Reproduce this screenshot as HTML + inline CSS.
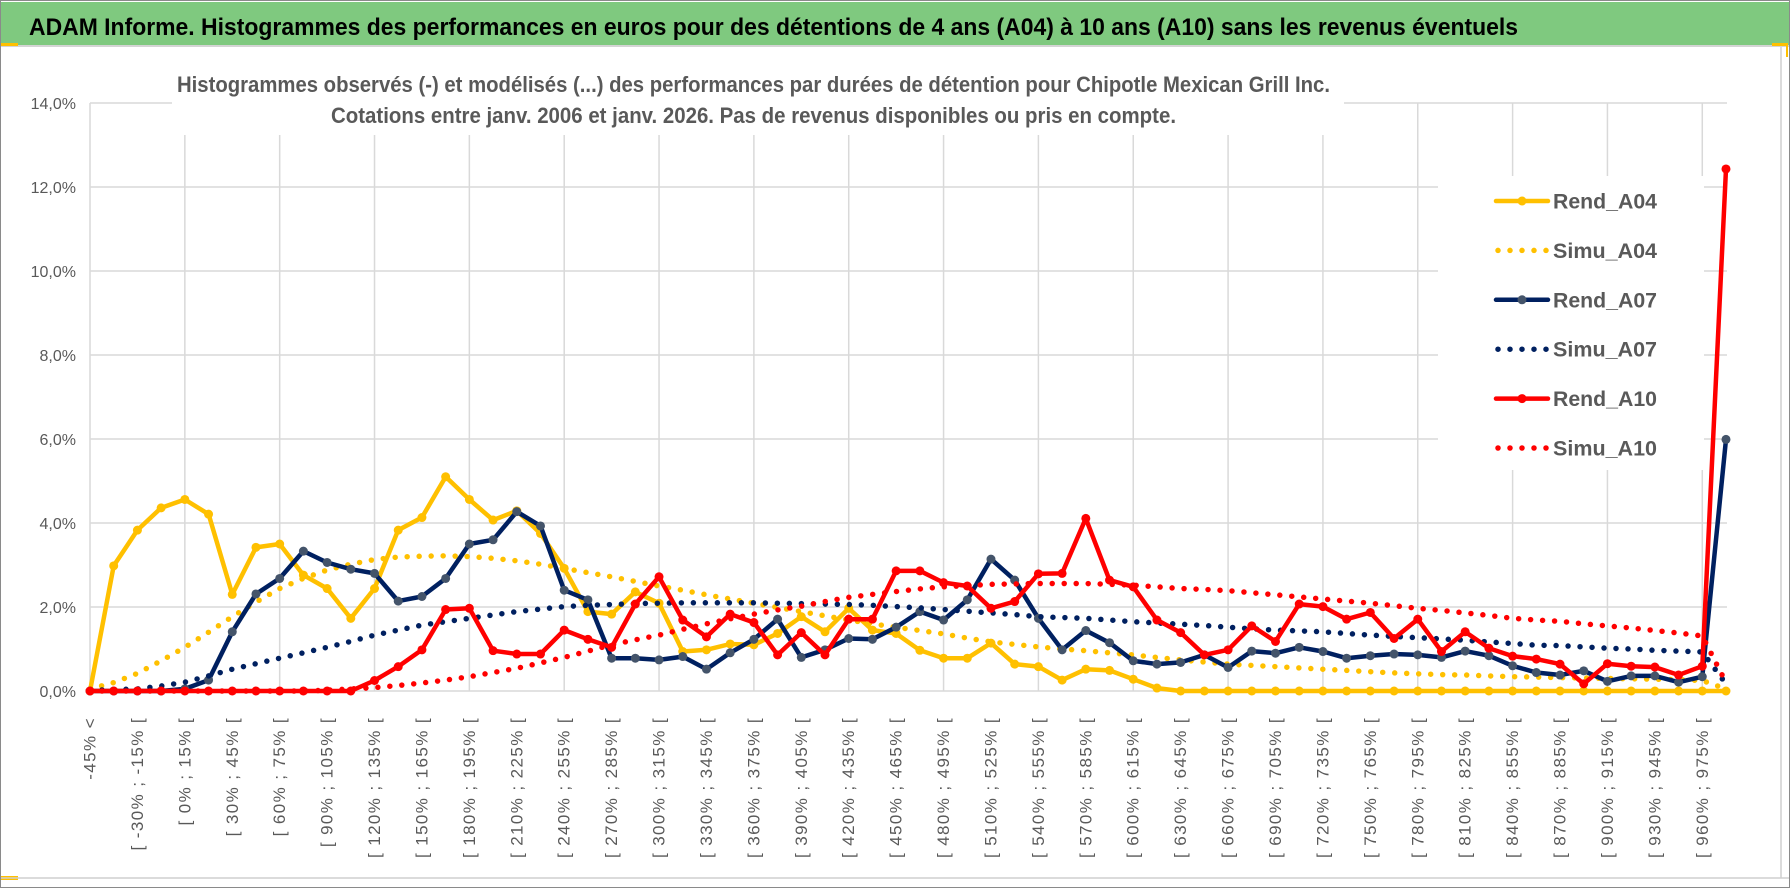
<!DOCTYPE html>
<html><head><meta charset="utf-8">
<style>
html,body{margin:0;padding:0;background:#fff;}
svg{display:block;}
text{font-family:"Liberation Sans",sans-serif;}
</style></head>
<body>
<svg id="chart" width="1790" height="888" viewBox="0 0 1790 888" xmlns="http://www.w3.org/2000/svg">
  <rect x="0.5" y="0.5" width="1789" height="887" fill="#fff" stroke="#8a8a8a"/>
  <rect x="1" y="2" width="1788" height="43" fill="#7fc97f"/>
  <text x="29" y="35" font-size="24" font-weight="bold" fill="#000" textLength="1489" lengthAdjust="spacingAndGlyphs">ADAM Informe. Histogrammes des performances en euros pour des détentions de 4 ans (A04) à 10 ans (A10) sans les revenus éventuels</text>
  <rect x="1" y="45" width="1788" height="2" fill="#d4d4d4"/>
  <rect x="1" y="43" width="17" height="3" fill="#ffc000"/>
  <rect x="1772" y="43" width="16" height="3" fill="#ffc000"/>
  <rect x="1786" y="43" width="2" height="14" fill="#ffc000"/>
  <rect x="1" y="876" width="17" height="4" fill="#ffc000"/>
  <line x1="1" y1="878" x2="1789" y2="878" stroke="#cfcfcf" stroke-width="1.5"/>
  <line x1="1781" y1="47" x2="1781" y2="878" stroke="#cfcfcf" stroke-width="1.5"/>
  <g id="grid"></g>
  <rect x="172" y="58" width="1172" height="77" fill="#fff"/>
  <text x="177" y="92" font-size="22" font-weight="bold" fill="#595959" textLength="1153" lengthAdjust="spacingAndGlyphs">Histogrammes observés (-) et modélisés (...) des performances par durées de détention pour Chipotle Mexican Grill Inc.</text>
  <text x="331" y="123" font-size="22" font-weight="bold" fill="#595959" textLength="845" lengthAdjust="spacingAndGlyphs">Cotations entre janv. 2006 et janv. 2026. Pas de revenus disponibles ou pris en compte.</text>
  <g id="yaxis"></g>
  <g id="xaxis"></g>
  <rect x="1438" y="176" width="266" height="294" fill="#fff"/>
  <g id="series"></g>
  <g id="legend"></g>
</svg>
<script>
const rendA04 = [0,2.98,3.83,4.36,4.56,4.21,2.30,3.42,3.50,2.76,2.44,1.73,2.44,3.83,4.13,5.10,4.56,4.07,4.29,3.75,2.92,1.89,1.83,2.36,2.09,0.94,0.98,1.12,1.10,1.37,1.77,1.41,1.97,1.45,1.37,0.97,0.78,0.78,1.14,0.64,0.58,0.26,0.52,0.49,0.28,0.07,0,0,0,0,0,0,0,0,0,0,0,0,0,0,0,0,0,0,0,0,0,0,0,0];
const simuA04 = [0.05,0.2,0.42,0.72,1.04,1.40,1.77,2.12,2.44,2.68,2.88,3.02,3.13,3.19,3.21,3.22,3.20,3.16,3.10,3.02,2.92,2.82,2.72,2.61,2.50,2.40,2.29,2.19,2.09,1.99,1.89,1.79,1.69,1.60,1.52,1.44,1.36,1.26,1.17,1.11,1.05,1.00,0.96,0.91,0.86,0.80,0.74,0.69,0.64,0.61,0.58,0.55,0.52,0.49,0.46,0.43,0.41,0.39,0.38,0.36,0.34,0.33,0.32,0.31,0.30,0.29,0.28,0.27,0.25,0.05];
const rendA07 = [0,0,0,0,0.05,0.26,1.41,2.31,2.68,3.33,3.06,2.90,2.80,2.14,2.25,2.68,3.50,3.60,4.27,3.93,2.40,2.17,0.78,0.78,0.74,0.82,0.52,0.91,1.23,1.71,0.80,0.98,1.25,1.23,1.52,1.89,1.69,2.17,3.14,2.64,1.73,0.98,1.44,1.15,0.72,0.64,0.68,0.86,0.56,0.95,0.90,1.04,0.94,0.78,0.84,0.88,0.86,0.80,0.95,0.84,0.60,0.44,0.38,0.48,0.23,0.36,0.36,0.21,0.34,5.99];
const simuA07 = [0.02,0.03,0.05,0.12,0.21,0.36,0.52,0.65,0.78,0.91,1.04,1.18,1.33,1.45,1.57,1.65,1.73,1.81,1.89,1.95,2.01,2.04,2.06,2.08,2.09,2.10,2.10,2.10,2.10,2.09,2.08,2.07,2.06,2.04,2.01,1.98,1.94,1.90,1.86,1.82,1.77,1.75,1.73,1.69,1.65,1.62,1.59,1.56,1.52,1.48,1.45,1.43,1.41,1.37,1.33,1.30,1.27,1.24,1.21,1.17,1.13,1.09,1.08,1.05,1.02,1.00,0.97,0.95,0.93,0.17];
const rendA10 = [0,0,0,0,0,0,0,0,0,0,0,0,0.25,0.58,0.98,1.94,1.97,0.96,0.88,0.88,1.45,1.23,1.04,2.07,2.72,1.69,1.29,1.83,1.63,0.86,1.39,0.86,1.71,1.71,2.86,2.86,2.58,2.50,1.97,2.13,2.79,2.80,4.11,2.64,2.48,1.69,1.39,0.86,0.98,1.55,1.18,2.07,2.01,1.71,1.87,1.25,1.71,0.94,1.41,1.02,0.83,0.76,0.64,0.17,0.65,0.59,0.57,0.38,0.59,12.43];
const simuA10 = [0,0,0,0,0,0,0,0,0,0,0.02,0.05,0.08,0.13,0.19,0.26,0.34,0.44,0.54,0.67,0.80,0.95,1.10,1.22,1.33,1.47,1.60,1.72,1.83,1.93,2.02,2.13,2.23,2.30,2.37,2.43,2.48,2.51,2.54,2.55,2.56,2.56,2.56,2.54,2.52,2.48,2.44,2.42,2.39,2.34,2.29,2.24,2.19,2.14,2.09,2.03,1.97,1.92,1.86,1.80,1.73,1.69,1.66,1.60,1.55,1.50,1.44,1.38,1.31,0.2];
const yTicks = [0,2,4,6,8,10,12,14];
const yTickLabels = ["0,0%","2,0%","4,0%","6,0%","8,0%","10,0%","12,0%","14,0%"];
const categories = ["-45% <"];
for (let s = -45; s < 990; s += 15) categories.push("[ " + s + "% ; " + (s + 15) + "% [");

const NS = "http://www.w3.org/2000/svg";
const X0 = 90, DX = 23.71, Y0 = 691, PY = 42, XR = 1727;
function xs(i){ return X0 + i * DX; }
function ys(v){ return Y0 - v * PY; }
function mk(tag, attrs, parent){
  const e = document.createElementNS(NS, tag);
  for (const k in attrs) e.setAttribute(k, attrs[k]);
  parent.appendChild(e);
  return e;
}
const grid = document.getElementById('grid');
yTicks.forEach(function(t){
  const l = mk('line', {x1: X0, x2: XR, y1: ys(t), y2: ys(t), stroke: '#d9d9d9', 'stroke-width': 1.5}, grid);
  
  
});
for (let i = 0; i < categories.length; i += 4) {
  const l = mk('line', {x1: xs(i), x2: xs(i), y1: ys(14), y2: ys(0), stroke: '#d9d9d9', 'stroke-width': 1.5}, grid);
  
  
}
const yaxis = document.getElementById('yaxis');
yTicks.forEach(function(t, k){
  const tx = mk('text', {x: 76, y: ys(t) + 6, 'text-anchor': 'end', 'font-size': 16, fill: '#595959'}, yaxis);
  tx.textContent = yTickLabels[k];
  
  
});
const xaxis = document.getElementById('xaxis');
categories.forEach(function(c, i){
  if (i % 2 !== 0) return;
  const x = xs(i), y = 717;
  const tx = mk('text', {x: x, y: y, 'text-anchor': 'end', 'dominant-baseline': 'central', 'font-size': 17, 'letter-spacing': '1.4', fill: '#595959', transform: 'rotate(-90 ' + x + ' ' + y + ')'}, xaxis);
  tx.textContent = c;
  
  
});
const seriesG = document.getElementById('series');
function drawSeries(vals, color, dotted, markerColor, name){
  const g = mk('g', {}, seriesG);
  
  
  const pts = vals.map(function(v, i){ return xs(i).toFixed(1) + ',' + ys(v).toFixed(1); }).join(' ');
  const attrs = {points: pts, fill: 'none', stroke: color, 'stroke-linejoin': 'round'};
  if (dotted) { attrs['stroke-width'] = 5.5; attrs['stroke-dasharray'] = '0 12'; attrs['stroke-linecap'] = 'round'; }
  else { attrs['stroke-width'] = 4.5; attrs['stroke-linecap'] = 'round'; }
  const pl = mk('polyline', attrs, g);
  
  
  if (!dotted) {
    vals.forEach(function(v, i){
      const c = mk('circle', {cx: xs(i), cy: ys(v), r: 4.5, fill: markerColor}, g);
      
      
    });
  }
}
drawSeries(rendA04, '#ffc000', false, '#ffc000', 'rend-a04');
drawSeries(simuA04, '#ffc000', true, null, 'simu-a04');
drawSeries(rendA07, '#002060', false, '#44546a', 'rend-a07');
drawSeries(simuA07, '#002060', true, null, 'simu-a07');
drawSeries(rendA10, '#ff0000', false, '#ff0000', 'rend-a10');
drawSeries(simuA10, '#ff0000', true, null, 'simu-a10');

const legendNames = ["Rend_A04","Simu_A04","Rend_A07","Simu_A07","Rend_A10","Simu_A10"];
const legendColors = ['#ffc000','#ffc000','#002060','#002060','#ff0000','#ff0000'];
const legendMarkers = ['#ffc000',null,'#44546a',null,'#ff0000',null];
const legend = document.getElementById('legend');
legendNames.forEach(function(n, k){
  const y = 201 + k * 49.4;
  const g = mk('g', {}, legend);
  
  
  if (legendMarkers[k]) {
    mk('line', {x1: 1496, x2: 1548, y1: y, y2: y, stroke: legendColors[k], 'stroke-width': 4.5, 'stroke-linecap': 'round'}, g);
    mk('circle', {cx: 1522, cy: y, r: 4.5, fill: legendMarkers[k]}, g);
  } else {
    mk('line', {x1: 1498, x2: 1548, y1: y, y2: y, stroke: legendColors[k], 'stroke-width': 5.5, 'stroke-dasharray': '0 12', 'stroke-linecap': 'round'}, g);
  }
  const t = mk('text', {x: 1553, y: y + 7.5, 'font-size': 21, 'font-weight': 'bold', fill: '#595959', textLength: 104, lengthAdjust: 'spacingAndGlyphs'}, g);
  t.textContent = n;
});
</script>
</body></html>
